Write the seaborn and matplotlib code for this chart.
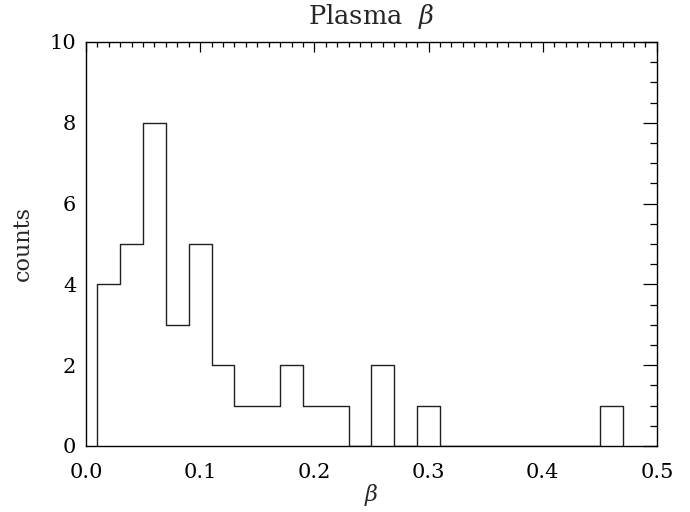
import numpy as np
import matplotlib
matplotlib.use('Agg')
import matplotlib.pyplot as plt
from matplotlib.ticker import MultipleLocator, FormatStrFormatter
import seaborn as sns

# histogram of plasma beta: bin edges and counts
bin_edges = [0.01, 0.03, 0.05, 0.07, 0.09, 0.11, 0.13, 0.15, 0.17, 0.19,
             0.21, 0.23, 0.25, 0.27, 0.29, 0.31, 0.33, 0.35, 0.37, 0.39,
             0.41, 0.43, 0.45, 0.47]
counts = [4, 5, 8, 3, 5, 2, 1, 1, 2, 1, 1, 0, 2, 0, 1, 0, 0, 0, 0, 0, 0, 0, 1]

centers = [(a + b) / 2 for a, b in zip(bin_edges[:-1], bin_edges[1:])]

sns.set_style('white')
plt.rcParams['font.family'] = ['DejaVu Serif']
plt.rcParams['mathtext.fontset'] = 'dejavuserif'

fig = plt.figure(figsize=(6.9, 5.12), dpi=100)
ax = fig.add_axes([0.1246, 0.129, 0.8274, 0.789])

line_col = '#202020'
sns.histplot(x=centers, weights=counts, bins=bin_edges, element='step',
             fill=False, color=line_col, linewidth=1.0, ax=ax)
# IDL-style outline drops to zero at the outer edges
ax.vlines([bin_edges[0], bin_edges[-1]], 0, [counts[0], counts[-1]],
          color=line_col, linewidth=1.0)

ax.set_xlim(0, 0.5)
ax.set_ylim(0, 10)
ax.xaxis.set_major_locator(MultipleLocator(0.1))
ax.xaxis.set_minor_locator(MultipleLocator(0.01))
ax.yaxis.set_major_locator(MultipleLocator(2))
ax.yaxis.set_minor_locator(MultipleLocator(0.5))
ax.xaxis.set_major_formatter(FormatStrFormatter('%.1f'))

ax.tick_params(which='both', direction='in', top=True, right=True,
               labelsize=15, colors='black', width=0.9)
ax.tick_params(axis='x', which='major', length=7, pad=12)
ax.tick_params(axis='x', which='minor', length=3.5)
ax.tick_params(axis='y', which='major', length=10, pad=7)
ax.tick_params(axis='y', which='minor', length=5)
for s in ax.spines.values():
    s.set_color('black')
    s.set_linewidth(1.0)

ax.set_title(r'Plasma  $\beta$', fontsize=18.5, pad=13)
ax.set_xlabel(r'$\beta$', fontsize=16, labelpad=0)
ax.set_ylabel('counts', fontsize=16, labelpad=11)

fig.savefig('out.png', dpi=100)
